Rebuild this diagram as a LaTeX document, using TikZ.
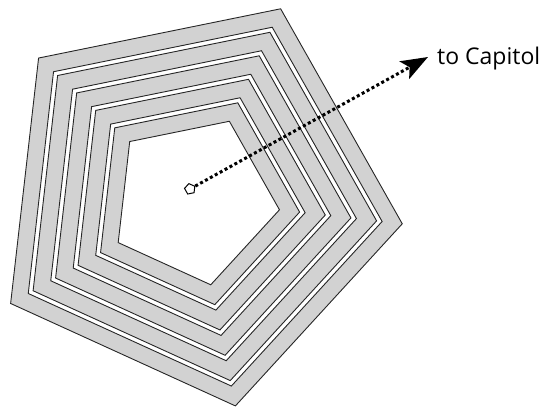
\documentclass[tikz,border=0pt]{standalone}
\usepackage{fontspec}
\setsansfont{Open Sans}
\usetikzlibrary{arrows.meta,shapes.geometric}
\definecolor{ringgray}{RGB}{210,210,210}
\newcommand\cx{193.5}
\newcommand\cy{200}
\newcommand\pentpath[1]{%
  ({\cx+(#1)*cos(65.5)},{\cy-(#1)*sin(65.5)}) --
  ({\cx+(#1)*cos(137.5)},{\cy-(#1)*sin(137.5)}) --
  ({\cx+(#1)*cos(209.5)},{\cy-(#1)*sin(209.5)}) --
  ({\cx+(#1)*cos(281.5)},{\cy-(#1)*sin(281.5)}) --
  ({\cx+(#1)*cos(353.5)},{\cy-(#1)*sin(353.5)}) -- cycle}
\tikzset{
  ring/.style={fill=ringgray, draw=black!85, line width=0.9pt, even odd rule, line join=miter},
  dotline/.style={line width=3pt, dash pattern=on 3pt off 2.6pt, -{Stealth[length=27pt,width=20pt,inset=6pt]}},
  srcmark/.style={regular polygon, regular polygon sides=5, minimum size=11pt, inner sep=0pt, draw=black, line width=1pt, fill=white, rotate=12},
  lbl/.style={font=\sffamily\fontsize{23}{26}\selectfont, inner sep=0pt, anchor=base west}
}
\begin{document}
\begin{tikzpicture}[x=1pt,y=-1pt]
\useasboundingbox (0,0) rectangle (543,407);
\foreach \i in {0,...,4}{
  \pgfmathsetmacro\ro{(170-20.9*\i)/cos(36)}
  \pgfmathsetmacro\ri{(170-20.9*\i-16.4)/cos(36)}
  \path[ring] \pentpath{\ro} \pentpath{\ri};
}
\node[srcmark] (src) at (190,189) {};
\coordinate (tip) at (428,57);
\draw[dotline] (src) -- (tip);
\node[lbl] (capitol) at (437,64) {to Capitol};
\end{tikzpicture}
\end{document}
